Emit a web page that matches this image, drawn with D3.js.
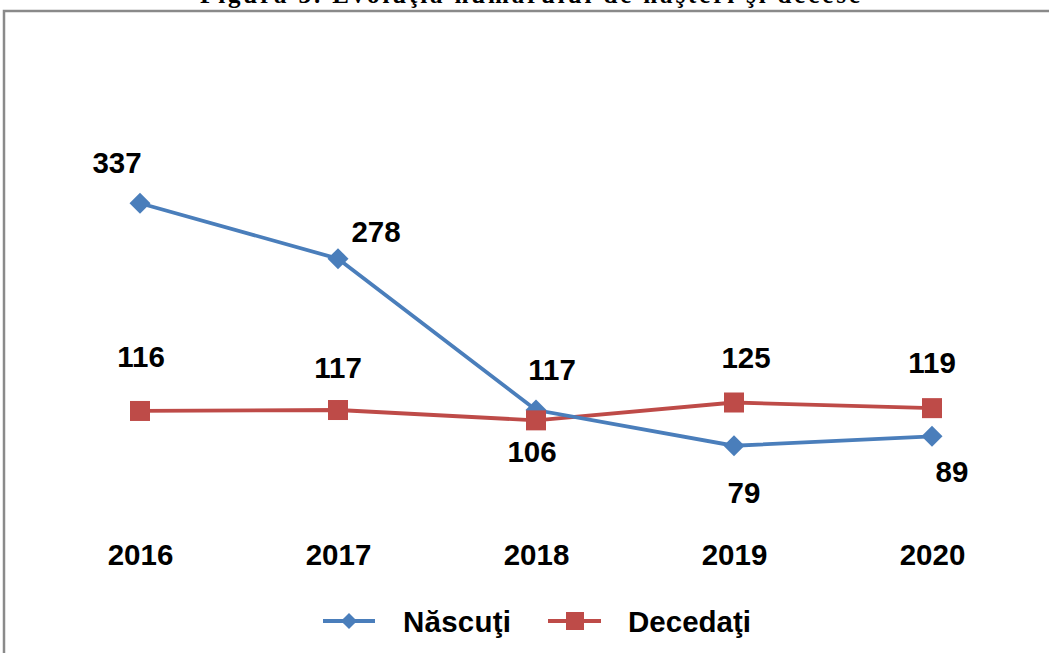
<!DOCTYPE html>
<html>
<head>
<meta charset="utf-8">
<script src="https://cdn.jsdelivr.net/npm/d3@7"></script>
<style>
  body { margin: 0; background: #fff; }
  text { font-family: "Liberation Sans", Arial, sans-serif; }
</style>
</head>
<body>
<div id="chart"></div>
<script>
// data
const years = ["2016", "2017", "2018", "2019", "2020"];
const nascuti = [337, 278, 117, 79, 89];
const decedati = [116, 117, 106, 125, 119];

// label offsets (dx, baseline dy) relative to each point
const nascutiLabelPos = [[-23, -30], [38, -17], [16, -30], [10, 57], [20, 46]];
const decedatiLabelPos = [[1, -44], [0, -32], [-4, 42], [12, -35], [0, -35]];

const width = 1049, height = 653;
const fontSize = "29.5px";

const svg = d3.select("#chart")
  .append("svg")
    .attr("width", width)
    .attr("height", height);

// title (cut off at the top edge, as in the source)
svg.append("text")
  .attr("x", 530)
  .attr("y", 3)
  .attr("text-anchor", "middle")
  .attr("textLength", 660)
  .style("font-family", "'Liberation Serif', 'Times New Roman', serif")
  .style("font-weight", "bold")
  .style("font-size", "25px")
  .text("Figura 3. Evoluţia numărului de naşteri şi decese");

// frame
svg.append("rect")
  .attr("x", 4)
  .attr("y", 11)
  .attr("width", 1070)
  .attr("height", 680)
  .style("fill", "none")
  .style("stroke", "#8a8a8a")
  .style("stroke-width", 2.5);

// scales
const x = d3.scalePoint()
  .domain(years)
  .range([140, 932]);

const y = d3.scaleLinear()
  .domain([0, 400])
  .range([520, 144]);

// x axis labels only
const xAxis = svg.append("g")
  .attr("transform", "translate(0,565)")
  .call(d3.axisBottom(x).tickSize(0).tickPadding(0));
xAxis.select(".domain").remove();
xAxis.selectAll("text")
  .attr("dy", 0)
  .style("font-size", fontSize)
  .style("font-weight", "bold")
  .style("fill", "#000");

const line = d3.line()
  .x((d, i) => x(years[i]))
  .y(d => y(d));

const blue = "#4a7ebb", red = "#be4b48";

svg.append("path")
  .datum(decedati)
  .attr("d", line)
  .style("fill", "none")
  .style("stroke", red)
  .style("stroke-width", 3.8);

svg.append("path")
  .datum(nascuti)
  .attr("d", line)
  .style("fill", "none")
  .style("stroke", blue)
  .style("stroke-width", 3.8);

const diamond = d3.symbol().type(d3.symbolSquare).size(220);

svg.selectAll(".dot-n")
  .data(nascuti)
  .join("path")
    .attr("class", "dot-n")
    .attr("d", diamond)
    .attr("transform", (d, i) => `translate(${x(years[i])},${y(d)}) rotate(45)`)
    .style("fill", blue);

svg.selectAll(".dot-d")
  .data(decedati)
  .join("rect")
    .attr("class", "dot-d")
    .attr("x", (d, i) => x(years[i]) - 10)
    .attr("y", d => y(d) - 10)
    .attr("width", 20)
    .attr("height", 20)
    .style("fill", red);

// data labels
svg.selectAll(".lab-n")
  .data(nascuti)
  .join("text")
    .attr("class", "lab-n")
    .attr("x", (d, i) => x(years[i]) + nascutiLabelPos[i][0])
    .attr("y", (d, i) => y(d) + nascutiLabelPos[i][1])
    .attr("text-anchor", "middle")
    .style("font-size", fontSize)
    .style("font-weight", "bold")
    .text(d => d);

svg.selectAll(".lab-d")
  .data(decedati)
  .join("text")
    .attr("class", "lab-d")
    .attr("x", (d, i) => x(years[i]) + decedatiLabelPos[i][0])
    .attr("y", (d, i) => y(d) + decedatiLabelPos[i][1])
    .attr("text-anchor", "middle")
    .style("font-size", fontSize)
    .style("font-weight", "bold")
    .text(d => d);

// legend
const legend = svg.append("g");

legend.append("line")
  .attr("x1", 323).attr("x2", 375)
  .attr("y1", 621).attr("y2", 621)
  .style("stroke", blue).style("stroke-width", 3.8);
legend.append("path")
  .attr("d", d3.symbol().type(d3.symbolSquare).size(130))
  .attr("transform", "translate(349,621) rotate(45)")
  .style("fill", blue);
legend.append("text")
  .attr("x", 403).attr("y", 632)
  .attr("textLength", 108)
  .style("font-size", fontSize)
  .style("font-weight", "bold")
  .text("Născuţi");

legend.append("line")
  .attr("x1", 548).attr("x2", 601)
  .attr("y1", 621).attr("y2", 621)
  .style("stroke", red).style("stroke-width", 3.8);
legend.append("rect")
  .attr("x", 566).attr("y", 612)
  .attr("width", 18).attr("height", 18)
  .style("fill", red);
legend.append("text")
  .attr("x", 628).attr("y", 632)
  .attr("textLength", 123)
  .style("font-size", fontSize)
  .style("font-weight", "bold")
  .text("Decedaţi");
</script>
</body>
</html>
